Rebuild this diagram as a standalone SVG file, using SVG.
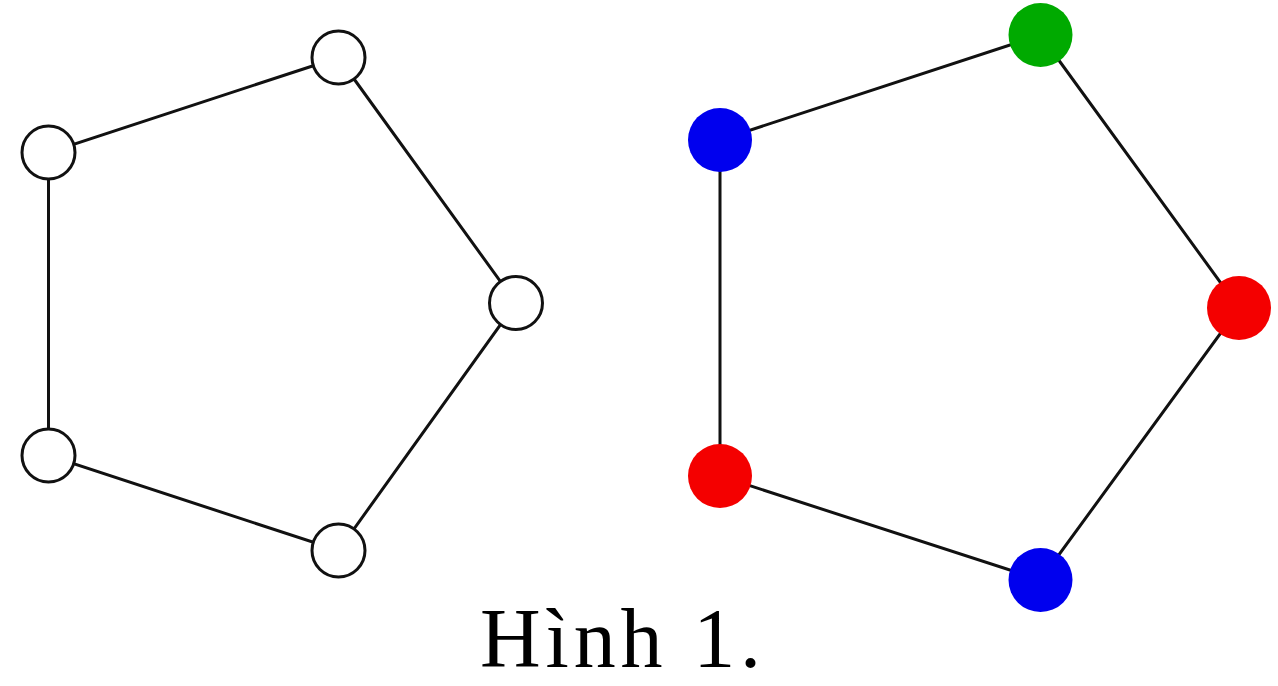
<svg xmlns="http://www.w3.org/2000/svg" width="1278" height="686" viewBox="0 0 1278 686">
<style>
.edge{stroke:#111;stroke-width:3;fill:none}
.open{fill:#fff;stroke:#111;stroke-width:3}
.blue{fill:#0000ee}
.red{fill:#f40000}
.green{fill:#00aa00}
.cap{font-family:"Liberation Serif",serif;font-size:84px;fill:#000}
</style>
<rect width="1278" height="686" fill="#fff"/>
<g id="connectors">
<polyline class="edge" points="338.5,57.5 48.5,152.5 48.5,455.5 338.5,550.5 516,303 338.5,57.5"/>
<polyline class="edge" points="1040.5,35 720,140 720,476 1040.5,580 1239,308 1040.5,35"/>
</g>
<g id="L1"><circle class="open" cx="338.5" cy="57.5" r="26.5"/></g>
<g id="L2"><circle class="open" cx="48.5" cy="152.5" r="26.5"/></g>
<g id="L3"><circle class="open" cx="48.5" cy="455.5" r="26.5"/></g>
<g id="L4"><circle class="open" cx="338.5" cy="550.5" r="26.5"/></g>
<g id="L5"><circle class="open" cx="516" cy="303" r="26.5"/></g>
<g id="R1"><circle class="green" cx="1040.5" cy="35" r="32"/></g>
<g id="R2"><circle class="blue" cx="720" cy="140" r="32"/></g>
<g id="R3"><circle class="red" cx="720" cy="476" r="32"/></g>
<g id="R4"><circle class="blue" cx="1040.5" cy="580" r="32"/></g>
<g id="R5"><circle class="red" cx="1239" cy="308" r="32"/></g>
<g id="caption"><text class="cap" x="480" y="667" textLength="281" lengthAdjust="spacing">Hình 1.</text></g>
</svg>
